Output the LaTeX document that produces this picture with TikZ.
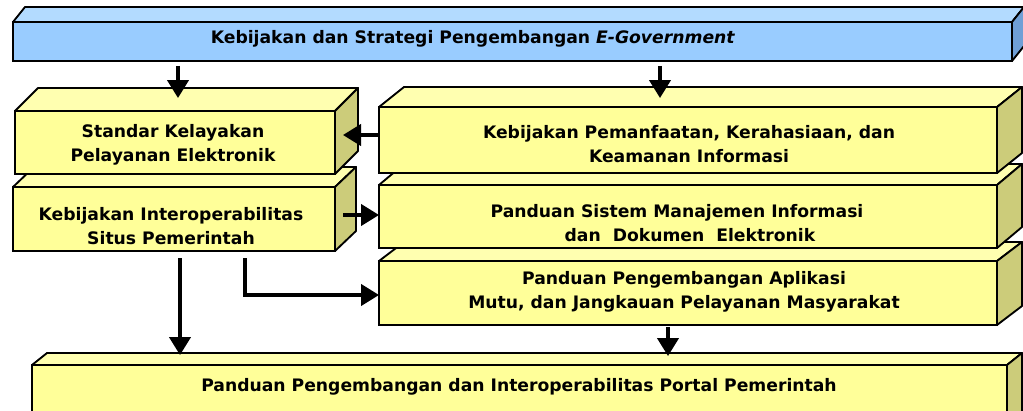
\documentclass[tikz,border=0pt]{standalone}
\usepackage{fontspec}
\setmainfont{DejaVu Sans}
\usetikzlibrary{arrows.meta,calc}
\definecolor{bfront}{HTML}{99CCFF}
\definecolor{btop}{HTML}{B3DBFF}
\definecolor{bside}{HTML}{6F9FD6}
\definecolor{yfront}{HTML}{FFFF99}
\definecolor{ytop}{HTML}{FFFFB0}
\definecolor{yside}{HTML}{CCCC7A}
\newcommand\cuboid[5]{%
  \filldraw[fill=#4,facestroke] (#1.north west) -- ++(#2,-#3) -- ($(#1.north east)+(#2,-#3)$) -- (#1.north east) -- cycle;
  \filldraw[fill=#5,facestroke] (#1.north east) -- ++(#2,-#3) -- ($(#1.south east)+(#2,-#3)$) -- (#1.south east) -- cycle;
}
\tikzset{
  facestroke/.style={draw=black,line width=1.4pt,line join=round},
  cubebox/.style={draw=black,line width=1.4pt,outer sep=0pt,inner sep=0pt},
  lbl/.style={font=\bfseries\fontsize{12.9pt}{18pt}\selectfont,align=center,inner sep=0pt},
  arr/.style={line width=2.4pt,-{Triangle[length=13.5pt,width=16pt]}}
}
\begin{document}
\begin{tikzpicture}[x=0.75pt,y=-0.75pt]
\clip (0,0) rectangle (1023,410);
% bottom-most first
\node[cubebox,fill=yfront,minimum width={975*0.75pt},minimum height={65*0.75pt}] (portal) at (519.5,397.5) {};
\cuboid{portal}{15}{12}{ytop}{yside}
\node[cubebox,fill=yfront,minimum width={618*0.75pt},minimum height={64*0.75pt}] (apl) at (688,293) {};
\cuboid{apl}{25}{19}{ytop}{yside}
\node[cubebox,fill=yfront,minimum width={618*0.75pt},minimum height={63*0.75pt}] (sis) at (688,216.5) {};
\cuboid{sis}{25}{21}{ytop}{yside}
\node[cubebox,fill=yfront,minimum width={618*0.75pt},minimum height={66*0.75pt}] (pem) at (688,140) {};
\cuboid{pem}{25}{20}{ytop}{yside}
\node[cubebox,fill=yfront,minimum width={322*0.75pt},minimum height={64*0.75pt}] (interop) at (174,219) {};
\cuboid{interop}{21}{20}{ytop}{yside}
\node[cubebox,fill=yfront,minimum width={320*0.75pt},minimum height={63*0.75pt}] (std) at (175,142.5) {};
\cuboid{std}{23}{23}{ytop}{yside}
\node[cubebox,fill=bfront,minimum width={999*0.75pt},minimum height={39*0.75pt}] (blue) at (512.5,41.5) {};
\cuboid{blue}{12}{15}{btop}{bside}
% texts
\node[lbl] (blueT) at (473,39) {Kebijakan dan Strategi Pengembangan \textit{E-Government}};
\node[lbl] (stdT) at (173,145) {Standar Kelayakan\\Pelayanan Elektronik};
\node[lbl] (pemT) at (689,144) {Kebijakan Pemanfaatan, Kerahasiaan, dan\\Keamanan Informasi};
\node[lbl] (intT) at (171,226) {Kebijakan Interoperabilitas\\Situs Pemerintah};
\node[lbl] (sisT) at (677,223) {Panduan Sistem Manajemen Informasi\\\hspace*{1.5em}dan~ Dokumen~ Elektronik};
\node[lbl] (aplT) at (684,292) {Panduan Pengembangan Aplikasi\\Mutu, dan Jangkauan Pelayanan Masyarakat};
\node[lbl] (porT) at (519,387) {Panduan Pengembangan dan Interoperabilitas Portal Pemerintah};
% arrows
\draw[arr] ($(blue.south -| 178,0)+(0,5)$) -- ($(std.north -| 178,0)+(0,-13)$);
\draw[arr] ($(blue.south -| 660,0)+(0,5)$) -- ($(pem.north -| 660,0)+(0,-9)$);
\draw[arr] (pem.west |- 0,135) -- ($(std.east |- 0,135)+(8,0)$);
\draw[arr] ($(interop.east |- 0,215)+(8,0)$) -- (sis.west |- 0,215);
\draw[arr] ($(interop.south -| 180,0)+(0,7)$) -- ($(portal.north -| 180,0)+(0,-10)$);
\draw[arr] ($(interop.south -| 245,0)+(0,7)$) |- (apl.west |- 0,295);
\draw[arr] ($(apl.south -| 668,0)+(0,2)$) -- ($(portal.north -| 668,0)+(0,-9)$);
\end{tikzpicture}
\end{document}
